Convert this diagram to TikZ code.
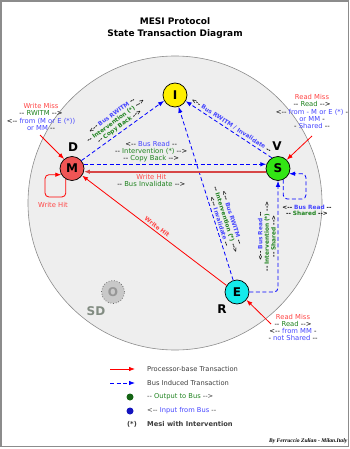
\documentclass[tikz,border=0pt]{standalone}
\usepackage{fontspec}
\setmainfont{DejaVu Sans}[Ligatures=TeXOff]
\newfontfamily\creditfont{Liberation Serif}[Ligatures=TeXOff]
\usetikzlibrary{arrows.meta}
\definecolor{framegray}{RGB}{140,140,140}
\definecolor{bggray}{RGB}{238,238,238}
\definecolor{circlegray}{RGB}{140,140,140}
\definecolor{mesiI}{RGB}{255,240,0}
\definecolor{mesiM}{RGB}{240,85,85}
\definecolor{mesiS}{RGB}{50,230,20}
\definecolor{mesiE}{RGB}{20,235,235}
\definecolor{mesiO}{RGB}{200,200,200}
\definecolor{ogray}{RGB}{90,90,90}
\definecolor{otext}{RGB}{150,150,150}
\definecolor{sdgray}{RGB}{130,140,130}
\definecolor{hitred}{RGB}{215,70,70}
\definecolor{txtred}{RGB}{255,70,70}
\definecolor{txtgreen}{RGB}{30,130,30}
\definecolor{txtblue}{RGB}{70,70,255}
\definecolor{legendgray}{RGB}{60,60,60}
\definecolor{dotgreen}{RGB}{20,100,20}
\definecolor{dotblue}{RGB}{20,20,190}
\newcommand{\txtr}[1]{\textcolor{txtred}{#1}}
\newcommand{\txtg}[1]{\textcolor{txtgreen}{#1}}
\newcommand{\txtb}[1]{\textcolor{txtblue}{#1}}
\begin{document}
\begin{tikzpicture}[x=1pt,y=-1pt,
		state/.style={circle, draw, line width=0.7pt, minimum size=24pt, inner sep=0pt, font=\fontsize{12}{12}\selectfont\bfseries},
		proc/.style={draw=red, line width=0.8pt, -{Latex[length=6pt,width=4.5pt]}},
		bus/.style={draw=blue, line width=0.8pt, dash pattern=on 4pt off 2.5pt, -{Latex[length=6pt,width=4.5pt]}},
		lbl/.style={font=\fontsize{6.8}{7.2}\selectfont, align=center, inner sep=0pt},
		slbl/.style={font=\fontsize{5.8}{6.6}\selectfont\bfseries, align=center, inner sep=0pt},
		tag/.style={font=\fontsize{12}{12}\selectfont\bfseries},
		legtxt/.style={font=\fontsize{6.7}{7}\selectfont, text=legendgray, anchor=west, inner sep=0pt}]
	\useasboundingbox (0,0) rectangle (350,449);
	\draw[framegray, line width=1.5pt] (1,1) rectangle (348.5,446.5);
	\node[font=\fontsize{9}{12}\selectfont\bfseries, align=center] (title) at (175,28) {MESI Protocol\\State Transaction Diagram};
	\draw[circlegray, fill=bggray, line width=0.6pt] (175,203) circle [radius=147];
	\coordinate (wm) at (40,135);
	\coordinate (rmS) at (312,136);
	\coordinate (rmE) at (271,324);
	\coordinate (loopM) at (45,197);
	\coordinate (loopS) at (306,199);
	\node[state, fill=mesiI] (I) at (175,95) {I};
	\node[state, fill=mesiM] (M) at (72,168.5) {M};
	\node[state, fill=mesiS] (S) at (278,168.5) {S};
	\node[state, fill=mesiE] (E) at (237,292) {E};
	\node[state, fill=mesiO, draw=ogray, dotted, text=otext, minimum size=23pt] (O) at (113,292) {O};
	\node[tag] (D) at (73,147) {D};
	\node[tag] (V) at (277,146) {V};
	\node[tag] (R) at (222,309) {R};
	\node[tag, text=sdgray] (SD) at (96,311) {SD};
	\draw[bus] (M.40) -- (I.208) node[midway, sloped, above=2pt, slbl] {<-- \txtb{Bus RWITM} --\\-- \txtg{Intervention (*)} -->\\-- \txtg{Copy Back} -->};
	\draw[bus] (S.120) -- (I.-30) node[midway, sloped, above=2pt, slbl] {<-- \txtb{Bus RWITM / Invalidate} --};
	\draw[bus] (E.108) -- (I.-73) node[pos=0.33, sloped, above=2pt, slbl] {<-- \txtb{Bus RWITM} --\\-- \txtg{Intervention (*)} -->\\<-- \txtb{Invalidate} --};
	\draw[bus, line width=1.1pt] (M.20) -- (S.160) node[pos=0.37, above=1.5pt, lbl] {<-- \txtb{Bus Read} --\\-- \txtg{Intervention (*)} -->\\-- \txtg{Copy Back} -->};
	\draw[proc, draw=hitred, line width=2pt] (S.-165) -- (M.-15) node[pos=0.63, below=1.5pt, lbl] {\txtr{Write Hit}\\-- \txtg{Bus Invalidate} -->};
	\draw[proc] (E.148) -- (M.-35) node[midway, sloped, above=2pt, slbl, text=txtred] {Write Hit};
	\draw[bus, rounded corners=4pt] (E.east) -| (S.south) node[pos=0.75, sloped, above=2pt, slbl] {<-- \txtb{Bus Read} --\\-- \txtg{Intervention (*)} -->\\-- \txtg{Shared} -->};
	\draw[bus, rounded corners=4pt] (S.-65) |- (loopS) |- (S.-25);
	\draw[proc, rounded corners=4pt] (M.240) |- (loopM) |- (M.210);
	\node[lbl, text=txtred] (hitM) at (53,205) {Write Hit};
	\node[slbl] (rdS) at (307,210.5) {<-- \txtb{Bus Read} --\\-- \txtg{Shared} -->};
	\draw[proc] (wm) -- (M.130);
	\draw[proc] (rmS) -- (S.45);
	\draw[proc] (rmE) -- (E.-40);
	\node[lbl] (wmtxt) at (41,117) {\txtr{Write Miss}\\-- \txtg{RWITM} -->\\<-- \txtb{from (M or E (*))}\\\txtb{or MM} --};
	\node[lbl] (rmStxt) at (312,111.5) {\txtr{Read Miss}\\-- \txtg{Read} -->\\<-- \txtb{from - M or E (*)} -\\\txtb{or MM} -\\- \txtb{Shared} --};
	\node[lbl] (rmEtxt) at (293,327.5) {\txtr{Read Miss}\\-- \txtg{Read} -->\\<-- \txtb{from MM} -\\- \txtb{not Shared} --};
	\coordinate (lp1) at (110,369);
	\coordinate (lp2) at (135,369);
	\coordinate (lb1) at (110,383);
	\coordinate (lb2) at (135,383);
	\draw[proc] (lp1) -- (lp2);
	\draw[bus] (lb1) -- (lb2);
	\node[circle, fill=dotgreen, minimum size=7pt, inner sep=0pt] (dotout) at (130,397) {};
	\node[circle, fill=dotblue, minimum size=7pt, inner sep=0pt] (dotin) at (130,411) {};
	\node[legtxt] (lgp) at (147,369) {Processor-base Transaction};
	\node[legtxt] (lgb) at (147,383) {Bus Induced Transaction};
	\node[legtxt] (lgo) at (147,397) {-- \txtg{Output to Bus} -->};
	\node[legtxt] (lgi) at (147,411) {<-- \txtb{Input from Bus} --};
	\node[legtxt, anchor=center, font=\fontsize{6.7}{7}\selectfont\bfseries] (lgs) at (132,424) {(*)};
	\node[legtxt, font=\fontsize{6.7}{7}\selectfont\bfseries] (lgm) at (147,424) {Mesi with Intervention};
	\node[anchor=east, inner sep=0pt, font=\creditfont\fontsize{5.6}{6}\selectfont\bfseries\itshape] (credit) at (347.5,441.5) {By Ferruccio Zulian - Milan.Italy};
\end{tikzpicture}
\end{document}
